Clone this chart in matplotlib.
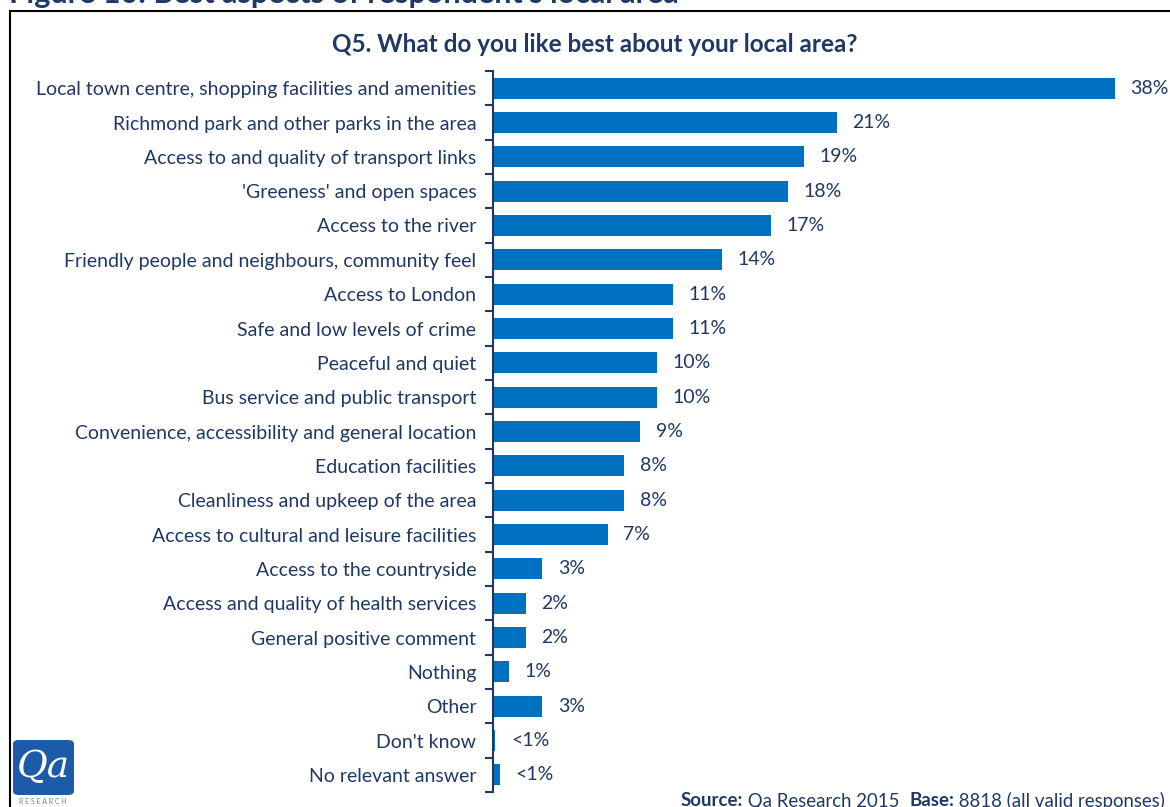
import matplotlib.pyplot as plt
from matplotlib.patches import Rectangle, FancyBboxPatch

plt.rcParams["font.family"] = ["Lato", "DejaVu Sans"]

NAVY = "#1F3864"
BAR_BLUE = "#0070C0"

categories = [
    "Local town centre, shopping facilities and amenities",
    "Richmond park and other parks in the area",
    "Access to and quality of transport links",
    "'Greeness' and open spaces",
    "Access to the river",
    "Friendly people and neighbours, community feel",
    "Access to London",
    "Safe and low levels of crime",
    "Peaceful and quiet",
    "Bus service and public transport",
    "Convenience, accessibility and general location",
    "Education facilities",
    "Cleanliness and upkeep of the area",
    "Access to cultural and leisure facilities",
    "Access to the countryside",
    "Access and quality of health services",
    "General positive comment",
    "Nothing",
    "Other",
    "Don't know",
    "No relevant answer",
]
values = [0.38, 0.21, 0.19, 0.18, 0.17, 0.14, 0.11, 0.11, 0.10, 0.10,
          0.09, 0.08, 0.08, 0.07, 0.03, 0.02, 0.02, 0.01, 0.03, 0.0015, 0.004]
value_labels = ["38%", "21%", "19%", "18%", "17%", "14%", "11%", "11%", "10%", "10%",
                "9%", "8%", "8%", "7%", "3%", "2%", "2%", "1%", "3%", "<1%", "<1%"]

fig = plt.figure(figsize=(11.7, 8.07), dpi=100)
ax = fig.add_axes([493 / 1170, 1 - 792 / 807, 1 - 493 / 1170, 721 / 807])

ypos = list(range(len(categories)))
ax.barh(ypos, values, height=0.62, color=BAR_BLUE)
ax.set_ylim(len(categories) - 0.5, -0.5)
ax.set_xlim(0, (1170 - 493) / 1637)

for y, v, lab in zip(ypos, values, value_labels):
    ax.text(v + 0.0095, y, lab, va="center", ha="left",
            fontsize=14, color=NAVY)

# category labels on major ticks, tick marks on the row boundaries
ax.set_yticks(ypos)
ax.set_yticklabels(categories, fontsize=14, color=NAVY)
ax.tick_params(axis="y", which="major", length=0, pad=12)
ax.set_yticks([i - 0.5 for i in range(len(categories) + 1)], minor=True)
ax.tick_params(axis="y", which="minor", length=6, width=1.5, color=NAVY)
ax.set_xticks([])
for side in ["top", "right", "bottom"]:
    ax.spines[side].set_visible(False)
ax.spines["left"].set_color(NAVY)
ax.spines["left"].set_linewidth(1.5)

fig.text(595 / 1170, 1 - 45 / 807, "Q5. What do you like best about your local area?",
         ha="center", va="center", fontsize=17.5, fontweight="bold", color=NAVY)

# figure caption, running off the top edge
fig.text(9 / 1170, 1 - 3.5 / 807, "Figure 10: Best aspects of respondent's local area",
         ha="left", va="baseline", fontsize=22, fontweight="bold", color=NAVY)

# frame around the chart
fig.patches.append(Rectangle((10 / 1170, -0.05), 1.2, 1 - 11 / 807 + 0.05,
                             transform=fig.transFigure, fill=False,
                             edgecolor="black", linewidth=1.5))

# logo
fig.patches.append(FancyBboxPatch((13 / 1170, 1 - 795 / 807), 61 / 1170, 55 / 807,
                                  boxstyle="round,pad=0,rounding_size=0.005",
                                  transform=fig.transFigure, facecolor="#1D5BA8",
                                  edgecolor="none"))
fig.text(43 / 1170, 1 - 767 / 807, "Qa", ha="center", va="center", fontsize=27,
         color="white", family="DejaVu Serif", style="italic")
fig.text(43 / 1170, 1 - 802 / 807, "R E S E A R C H", ha="center", va="center",
         fontsize=5, color="#808080")

# source line: bold keys and plain values, laid out right to left
fig.canvas.draw()
renderer = fig.canvas.get_renderer()
parts = [("Source:", "bold"), (" Qa Research 2015  ", "normal"),
         ("Base:", "bold"), (" 8818 (all valid responses)", "normal")]
x_right = 1165
for txt, weight in reversed(parts):
    t = fig.text(x_right / 1170, 1 - 801 / 807, txt, ha="right", va="center",
                 fontsize=13.4, fontweight=weight, color=NAVY)
    x_right -= t.get_window_extent(renderer).width

fig.savefig("out.png", dpi=100)
